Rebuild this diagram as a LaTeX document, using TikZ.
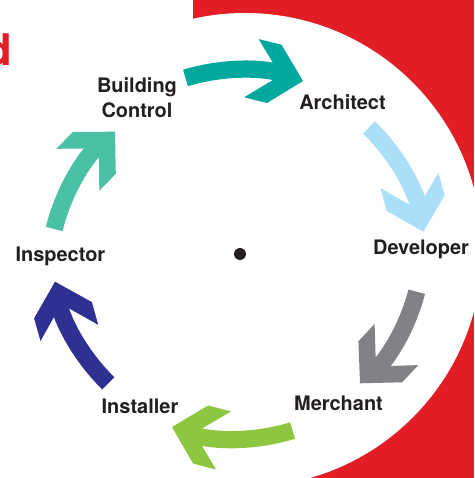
\documentclass[tikz,border=0pt]{standalone}
\usepackage{fontspec}
\setmainfont{TeX Gyre Heros}
\usetikzlibrary{decorations.markings}

\definecolor{rosso}{RGB}{225,30,38}
\definecolor{testo}{RGB}{35,31,32}
\definecolor{fteal}{RGB}{0,168,157}
\definecolor{fceleste}{RGB}{171,223,249}
\definecolor{fgrigio}{RGB}{128,130,133}
\definecolor{fverde}{RGB}{141,198,63}
\definecolor{fblu}{RGB}{46,49,146}
\definecolor{facqua}{RGB}{74,192,167}

\begin{document}
\begin{tikzpicture}
    % Stili per i nodi
    \tikzstyle{etichetta}=[font=\bfseries\fontsize{14.2}{17.8}\selectfont, text=testo, inner sep=0pt, anchor=base, align=center]
    \tikzstyle{freccia}=[line width=0.43cm, shorten >=0.5cm, looseness=0.87, postaction={decorate}, decoration={markings, mark=at position 1 with {\fill[rotate=6] (0,0) -- (-0.74,0.75) -- (-1.33,0.75) -- (-0.58,0) -- (-1.33,-0.75) -- (-0.74,-0.75) -- cycle;}}]
    \clip (-6,-5.6) rectangle (5.85,6.35);
    \fill[white] (-6,-5.6) rectangle (5.85,6.35);
    % Sfondo rosso e cerchio bianco
    \fill[rosso] (-1.175,-5.6) rectangle (5.85,6.35);
    \fill[white] (0.125,0.1) circle (5.925);
    \node[text=rosso, font=\bfseries\fontsize{31}{36}\selectfont, anchor=base east, inner sep=0pt] (titolo) at (-5.7,4.7) {d};

    % Centro
    \node[circle, fill=testo, minimum size=0.3cm, inner sep=0pt] (centro) at (0,0) {};

    % Ruoli
    \node[etichetta, anchor=center] (building) at (-2.575,3.91) {Building\\Control};
    \node[etichetta] (architect) at (2.5625,3.6) {Architect};
    \node[etichetta] (developer) at (4.525,-0.025) {Developer};
    \node[etichetta] (merchant) at (2.4625,-3.9) {Merchant};
    \node[etichetta] (installer) at (-2.5,-3.975) {Installer};
    \node[etichetta] (inspector) at (-4.49,-0.2) {Inspector};

    % Estremi delle frecce
    \coordinate (s1) at (-1.3625,4.4);   \coordinate (t1) at (1.575,4.325);
    \coordinate (s2) at (3.225,3.1625);  \coordinate (t2) at (4.5825,0.5575);
    \coordinate (s3) at (4.4175,-0.9425); \coordinate (t3) at (3.0,-3.2325);
    \coordinate (s4) at (1.3125,-4.4125); \coordinate (t4) at (-1.7,-4.325);
    \coordinate (s5) at (-3.2925,-3.2325); \coordinate (t5) at (-4.625,-0.6925);
    \coordinate (s6) at (-4.645,0.625);  \coordinate (t6) at (-3.125,3.0575);

    % Frecce del ciclo
    \draw[freccia, color=fteal] (s1) to[bend left=18.5] (t1);
    \draw[freccia, color=fceleste] (s2) to[bend left=18.5] (t2);
    \draw[freccia, color=fgrigio] (s3) to[bend left=17.5] (t3);
    \draw[freccia, color=fverde] (s4) to[bend left=19] (t4);
    \draw[freccia, color=fblu] (s5) to[bend left=18] (t5);
    \draw[freccia, color=facqua] (s6) to[bend left=18.3] (t6);
\end{tikzpicture}
\end{document}
